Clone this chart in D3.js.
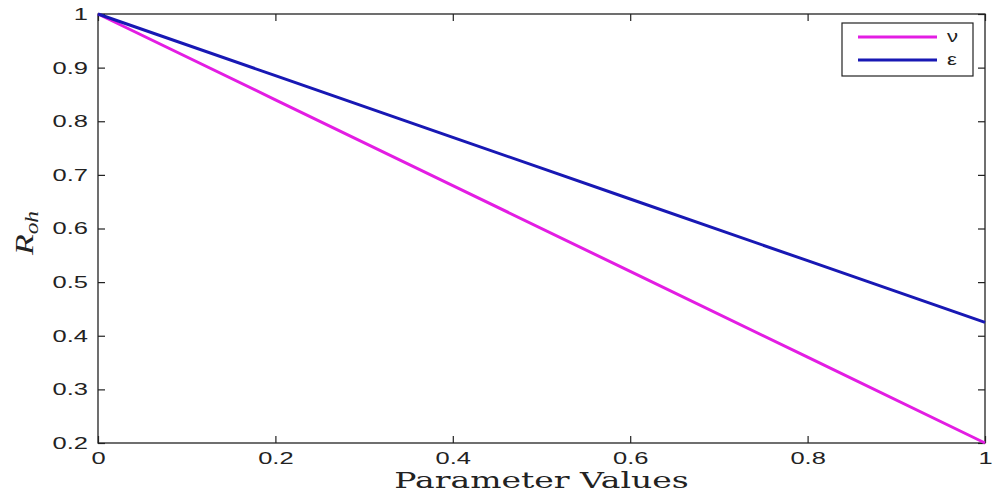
<!DOCTYPE html>
<html>
<head>
<meta charset="utf-8">
<script src="https://cdn.jsdelivr.net/npm/d3@7"></script>
<style>
  body { margin: 0; background: #fff; }
  svg { display: block; }
</style>
</head>
<body>
<svg id="chart"></svg>
<script>
// parameter values along x
var params = [0, 0.2, 0.4, 0.6, 0.8, 1];
// R_oh for each parameter
var nuValues = [1, 0.84, 0.68, 0.52, 0.36, 0.2];
var epsValues = [1, 0.885, 0.77, 0.655, 0.54, 0.425];
var seriesNames = ["ν", "ε"];
var xTicks = [0, 0.2, 0.4, 0.6, 0.8, 1];
var yTicks = [0.2, 0.3, 0.4, 0.5, 0.6, 0.7, 0.8, 0.9, 1];

var svgWidth = 992, svgHeight = 494;
var margin = {top: 14, right: 7, bottom: 51, left: 98};
var w = svgWidth - margin.left - margin.right;
var h = svgHeight - margin.top - margin.bottom;

var svg = d3.select("#chart")
    .attr("width", svgWidth)
    .attr("height", svgHeight);

var g = svg.append("g")
    .attr("transform", "translate(" + margin.left + "," + margin.top + ")");

var x = d3.scaleLinear().domain([0, 1]).range([0, w]);
var y = d3.scaleLinear().domain([0.2, 1]).range([h, 0]);

var fmt = function(d) { return d === 0 || d === 1 ? String(d) : d.toFixed(1); };

// the reference's text is drawn wide, so stretch it sideways
var stretch = 1.5;
var axisColor = "#222";
function styleAxis(sel, showText) {
    sel.select(".domain").remove();
    sel.selectAll(".tick line").attr("stroke", axisColor).attr("stroke-width", 1.2);
    sel.selectAll(".tick text")
        .attr("fill", "#222")
        .attr("transform", "scale(" + stretch + ",1)")
        .style("font-family", "'Liberation Sans', Arial, sans-serif")
        .style("font-size", "17px");
    if (!showText) sel.selectAll(".tick text").remove();
}

// ticks point inward, on all four sides
g.append("g")
    .attr("transform", "translate(0," + h + ")")
    .call(d3.axisBottom(x).tickValues(xTicks).tickFormat(fmt).tickSizeInner(-7).tickPadding(9))
    .call(styleAxis, true);

g.append("g")
    .call(d3.axisTop(x).tickValues(xTicks).tickSizeInner(-7))
    .call(styleAxis, false);

g.append("g")
    .call(d3.axisLeft(y).tickValues(yTicks).tickFormat(fmt).tickSizeInner(-7).tickPadding(6.7))
    .call(styleAxis, true);

g.append("g")
    .attr("transform", "translate(" + w + ",0)")
    .call(d3.axisRight(y).tickValues(yTicks).tickSizeInner(-7))
    .call(styleAxis, false);

g.append("rect")
    .attr("width", w)
    .attr("height", h)
    .attr("fill", "none")
    .attr("stroke", axisColor)
    .attr("stroke-width", 1.3);

var colors = ["#e31de3", "#1818b4"];
var allSeries = [nuValues, epsValues];

var line = d3.line()
    .x(function(d, i) { return x(params[i]); })
    .y(function(d) { return y(d); });

g.selectAll(".series")
    .data(allSeries)
    .enter()
    .append("path")
    .attr("class", "series")
    .attr("d", line)
    .attr("fill", "none")
    .attr("stroke", function(d, i) { return colors[i]; })
    .attr("stroke-width", 3);

// legend
var legend = svg.append("g").attr("transform", "translate(842,23)");
legend.append("rect")
    .attr("width", 131)
    .attr("height", 53)
    .attr("fill", "#fff")
    .attr("stroke", axisColor)
    .attr("stroke-width", 1.2);

var items = legend.selectAll(".item")
    .data(seriesNames)
    .enter()
    .append("g")
    .attr("transform", function(d, i) { return "translate(0," + (14 + i * 23) + ")"; });

items.append("line")
    .attr("x1", 16).attr("x2", 95)
    .attr("stroke", function(d, i) { return colors[i]; })
    .attr("stroke-width", 3);

items.append("text")
    .attr("transform", "translate(105,5) scale(1.3,1)")
    .attr("fill", "#222")
    .style("font-family", "'Liberation Sans', Arial, sans-serif")
    .style("font-size", "17px")
    .text(function(d) { return d; });

// axis labels
svg.append("text")
    .attr("transform", "translate(" + (margin.left + w / 2) + ",488) scale(" + stretch + ",1)")
    .attr("text-anchor", "middle")
    .attr("fill", "#222")
    .style("font-family", "'DejaVu Serif', 'Liberation Serif', serif")
    .style("font-size", "22px")
    .text("Parameter Values");

var ylab = svg.append("text")
    .attr("transform", "translate(33,233) rotate(-90) scale(1.3,1)")
    .attr("text-anchor", "middle")
    .attr("fill", "#222")
    .style("font-family", "'Liberation Serif', serif")
    .style("font-style", "italic")
    .style("font-size", "26px");
ylab.append("tspan").text("R");
ylab.append("tspan").attr("dy", 5).style("font-size", "18px").text("oh");
</script>
</body>
</html>
